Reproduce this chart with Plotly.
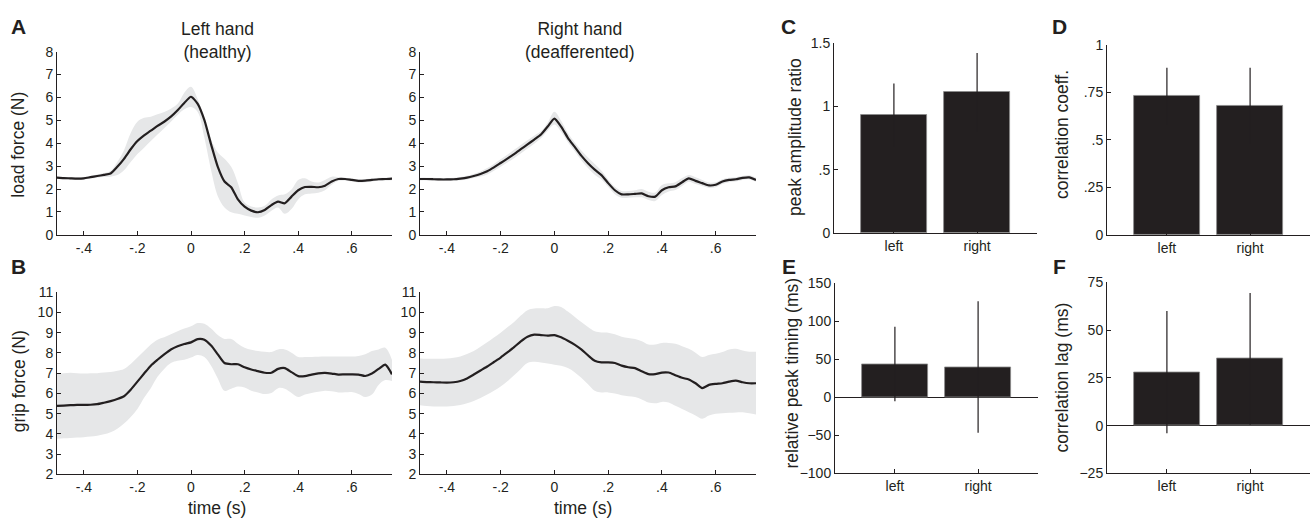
import plotly.graph_objects as go

# ---------------- data ----------------
time_s = [-0.5, -0.475, -0.45, -0.425, -0.4, -0.375, -0.35, -0.325, -0.3, -0.275,
          -0.25, -0.225, -0.2, -0.175, -0.15, -0.125, -0.1, -0.075, -0.05, -0.025,
          0.0, 0.025, 0.05, 0.075, 0.1, 0.125, 0.15, 0.175, 0.2, 0.225,
          0.25, 0.275, 0.3, 0.325, 0.35, 0.375, 0.4, 0.425, 0.45, 0.475,
          0.5, 0.525, 0.55, 0.575, 0.6, 0.625, 0.65, 0.675, 0.7, 0.725, 0.75]

load_left_mean = [2.50, 2.48, 2.47, 2.46, 2.47, 2.52, 2.57, 2.62, 2.68, 2.97,
                  3.32, 3.74, 4.10, 4.35, 4.55, 4.76, 4.94, 5.16, 5.44, 5.76,
                  6.03, 5.72, 5.01, 3.95, 2.97, 2.33, 2.08, 1.55, 1.23, 1.06,
                  0.99, 1.09, 1.30, 1.45, 1.38, 1.67, 1.95, 2.09, 2.10, 2.08,
                  2.15, 2.33, 2.44, 2.44, 2.40, 2.36, 2.37, 2.40, 2.43, 2.44, 2.46]
load_left_upper = [2.55, 2.53, 2.52, 2.52, 2.53, 2.58, 2.64, 2.70, 2.80, 3.18,
                   3.70, 4.45, 4.94, 5.11, 5.16, 5.27, 5.37, 5.51, 5.72, 6.21,
                   6.47, 5.93, 5.08, 4.17, 3.60, 3.32, 2.97, 2.26, 1.41, 1.24,
                   1.20, 1.27, 1.55, 1.72, 1.77, 1.98, 2.40, 2.47, 2.33, 2.29,
                   2.40, 2.54, 2.52, 2.50, 2.46, 2.42, 2.43, 2.46, 2.49, 2.50, 2.52]
load_left_lower = [2.45, 2.43, 2.42, 2.41, 2.42, 2.46, 2.50, 2.53, 2.54, 2.61,
                   2.82, 3.18, 3.53, 3.81, 4.10, 4.38, 4.66, 4.94, 5.23, 5.48,
                   5.58, 5.37, 4.24, 2.82, 1.69, 1.20, 0.99, 0.92, 0.85, 0.78,
                   0.75, 0.85, 1.06, 1.20, 0.92, 1.13, 1.55, 1.77, 1.81, 1.84,
                   1.95, 2.19, 2.36, 2.37, 2.33, 2.29, 2.30, 2.33, 2.36, 2.37, 2.39]

load_right_mean = [2.44, 2.44, 2.43, 2.42, 2.42, 2.43, 2.46, 2.50, 2.57, 2.66,
                   2.78, 2.95, 3.14, 3.33, 3.53, 3.74, 3.95, 4.16, 4.38, 4.73,
                   5.08, 4.73, 4.24, 3.85, 3.46, 3.13, 2.85, 2.61, 2.26, 1.95,
                   1.77, 1.77, 1.79, 1.81, 1.69, 1.67, 1.95, 2.08, 2.12, 2.30,
                   2.47, 2.36, 2.26, 2.16, 2.19, 2.33, 2.40, 2.43, 2.49, 2.51, 2.40]
load_right_upper = [2.50, 2.50, 2.49, 2.48, 2.48, 2.49, 2.53, 2.58, 2.66, 2.77,
                    2.92, 3.10, 3.30, 3.50, 3.72, 3.93, 4.13, 4.33, 4.52, 4.90,
                    5.38, 4.98, 4.45, 4.05, 3.68, 3.38, 3.10, 2.80, 2.42, 2.10,
                    1.92, 1.92, 1.95, 2.00, 1.88, 1.85, 2.18, 2.25, 2.30, 2.48,
                    2.62, 2.52, 2.40, 2.29, 2.30, 2.43, 2.49, 2.52, 2.57, 2.60, 2.50]
load_right_lower = [2.38, 2.38, 2.37, 2.36, 2.36, 2.37, 2.39, 2.42, 2.48, 2.55,
                    2.64, 2.80, 2.98, 3.16, 3.35, 3.55, 3.77, 3.98, 4.22, 4.55,
                    4.82, 4.50, 4.05, 3.66, 3.26, 2.92, 2.63, 2.42, 2.10, 1.78,
                    1.62, 1.62, 1.64, 1.64, 1.52, 1.48, 1.74, 1.90, 1.96, 2.14,
                    2.32, 2.22, 2.13, 2.05, 2.08, 2.22, 2.30, 2.33, 2.40, 2.42, 2.32]

grip_left_mean = [5.38, 5.40, 5.42, 5.43, 5.43, 5.44, 5.47, 5.54, 5.62, 5.72,
                  5.86, 6.18, 6.58, 6.98, 7.37, 7.66, 7.93, 8.17, 8.33, 8.44,
                  8.52, 8.68, 8.65, 8.36, 7.93, 7.50, 7.44, 7.44, 7.29, 7.18,
                  7.10, 7.02, 7.02, 7.21, 7.25, 7.05, 6.85, 6.85, 6.93, 6.99,
                  7.01, 6.98, 6.93, 6.94, 6.94, 6.93, 6.86, 6.98, 7.21, 7.42, 6.94]
grip_left_upper = [6.98, 7.00, 7.02, 7.00, 6.98, 6.99, 7.00, 7.03, 7.06, 7.12,
                   7.21, 7.45, 7.77, 8.09, 8.41, 8.65, 8.77, 8.92, 9.07, 9.20,
                   9.31, 9.47, 9.44, 9.20, 8.88, 8.69, 8.68, 8.45, 8.25, 8.15,
                   8.09, 8.05, 8.04, 8.17, 8.17, 8.01, 7.80, 7.80, 7.80, 7.81,
                   7.82, 7.82, 7.82, 7.82, 7.82, 7.85, 7.93, 8.09, 8.17, 8.25, 7.65]
grip_left_lower = [3.76, 3.78, 3.80, 3.82, 3.84, 3.87, 3.91, 3.98, 4.08, 4.25,
                   4.51, 4.83, 5.23, 5.78, 6.26, 6.82, 7.21, 7.50, 7.61, 7.66,
                   7.77, 7.90, 7.80, 7.37, 6.74, 6.13, 6.23, 6.34, 6.29, 6.13,
                   6.05, 5.97, 6.02, 6.26, 6.23, 6.02, 5.82, 5.94, 6.02, 6.08,
                   6.13, 6.10, 6.05, 6.06, 6.07, 5.97, 5.82, 5.94, 6.42, 6.66, 6.61]

grip_right_mean = [6.58, 6.56, 6.55, 6.54, 6.53, 6.55, 6.61, 6.74, 6.93, 7.13,
                   7.33, 7.55, 7.77, 8.02, 8.28, 8.57, 8.80, 8.90, 8.88, 8.85,
                   8.88, 8.77, 8.60, 8.41, 8.17, 7.88, 7.61, 7.53, 7.53, 7.50,
                   7.37, 7.29, 7.25, 7.09, 6.95, 6.95, 7.03, 7.03, 6.90, 6.77,
                   6.69, 6.50, 6.26, 6.42, 6.47, 6.50, 6.58, 6.63, 6.55, 6.50, 6.50]
grip_right_upper = [7.72, 7.71, 7.71, 7.71, 7.72, 7.76, 7.82, 7.94, 8.09, 8.30,
                    8.52, 8.76, 9.00, 9.26, 9.52, 9.84, 10.11, 10.19, 10.20, 10.20,
                    10.31, 10.27, 10.04, 9.79, 9.52, 9.28, 9.07, 9.01, 9.00, 8.92,
                    8.80, 8.73, 8.68, 8.57, 8.41, 8.41, 8.49, 8.49, 8.45, 8.33,
                    8.20, 8.01, 7.80, 7.90, 7.96, 8.04, 8.17, 8.20, 8.12, 8.06, 8.06]
grip_right_lower = [5.42, 5.38, 5.35, 5.35, 5.35, 5.38, 5.43, 5.51, 5.62, 5.77,
                    5.94, 6.13, 6.34, 6.60, 6.90, 7.21, 7.50, 7.56, 7.53, 7.48,
                    7.42, 7.37, 7.25, 7.05, 6.77, 6.45, 6.13, 6.05, 6.05, 5.99,
                    5.91, 5.86, 5.82, 5.70, 5.55, 5.51, 5.58, 5.55, 5.39, 5.23,
                    5.07, 4.91, 4.75, 4.91, 4.99, 5.02, 5.04, 5.06, 5.07, 5.02, 4.96]

time_tickvals = [-0.4, -0.2, 0, 0.2, 0.4, 0.6]
time_ticktext = ['-.4', '-.2', '0', '.2', '.4', '.6']

hands = ['left', 'right']
hand_pos = [1, 2]
peak_amp = [0.93, 1.11]
peak_amp_err = [0.25, 0.31]
corr_coeff = [0.73, 0.68]
corr_coeff_err = [0.15, 0.20]
peak_timing = [44, 40]
peak_timing_err = [49, 86.5]
corr_lag = [28, 35]
corr_lag_err = [32, 34.5]

# ---------------- style ----------------
W, H = 1312, 528
DARK = '#231f20'
BAND = '#e6e7e8'
FONT = 'Liberation Sans, Arial, Helvetica, sans-serif'


def dom_x(a, b):
    return [a / W, b / W]


def dom_y(top, bottom):
    return [1 - bottom / H, 1 - top / H]


fig = go.Figure()


def add_curve(xref, yref, upper, lower, mean):
    fig.add_trace(go.Scatter(x=time_s, y=upper, mode='lines', line=dict(width=0, shape='spline'),
                             hoverinfo='skip', showlegend=False, xaxis=xref, yaxis=yref))
    fig.add_trace(go.Scatter(x=time_s, y=lower, mode='lines', line=dict(width=0, shape='spline'),
                             fill='tonexty', fillcolor=BAND, hoverinfo='skip', showlegend=False,
                             xaxis=xref, yaxis=yref))
    fig.add_trace(go.Scatter(x=time_s, y=mean, mode='lines',
                             line=dict(color=DARK, width=2.2, shape='spline', smoothing=0.6),
                             showlegend=False, xaxis=xref, yaxis=yref))


add_curve('x', 'y', load_left_upper, load_left_lower, load_left_mean)
add_curve('x2', 'y2', load_right_upper, load_right_lower, load_right_mean)
add_curve('x3', 'y3', grip_left_upper, grip_left_lower, grip_left_mean)
add_curve('x4', 'y4', grip_right_upper, grip_right_lower, grip_right_mean)


def add_bars(xref, yref, vals, errs):
    fig.add_trace(go.Bar(x=hand_pos, y=vals, width=0.8,
                         marker=dict(color=DARK, line=dict(color='#8a8a8a', width=0.8)),
                         error_y=dict(type='data', array=errs, visible=True, width=0,
                                      thickness=1.2, color=DARK),
                         showlegend=False, xaxis=xref, yaxis=yref))


add_bars('x5', 'y5', peak_amp, peak_amp_err)
add_bars('x6', 'y6', corr_coeff, corr_coeff_err)
add_bars('x7', 'y7', peak_timing, peak_timing_err)
add_bars('x8', 'y8', corr_lag, corr_lag_err)

base_axis = dict(showline=True, linecolor=DARK, linewidth=1, ticks='inside', ticklen=4,
                 tickwidth=1, tickcolor=DARK, showgrid=False, zeroline=False,
                 tickfont=dict(size=14, color=DARK, family=FONT), mirror=False,
                 fixedrange=True)


def xa(domain, anchor, **kw):
    d = dict(base_axis)
    d.update(domain=domain, anchor=anchor)
    d.update(kw)
    return d


time_x = dict(range=[-0.5, 0.75], tickmode='array', tickvals=time_tickvals, ticktext=time_ticktext)
bar_x = dict(range=[0.28, 2.72], tickmode='array', tickvals=hand_pos, ticktext=hands)

layout = dict(
    width=W, height=H, margin=dict(l=0, r=0, t=0, b=0),
    paper_bgcolor='white', plot_bgcolor='white',
    font=dict(family=FONT, color=DARK),
    bargap=0,
    xaxis=xa(dom_x(57, 392), 'y', **time_x),
    yaxis=xa(dom_y(45, 234), 'x', range=[0, 8], tickmode='linear', tick0=0, dtick=1),
    xaxis2=xa(dom_x(420, 756), 'y2', **time_x),
    yaxis2=xa(dom_y(45, 234), 'x2', range=[0, 8], tickmode='linear', tick0=0, dtick=1),
    xaxis3=xa(dom_x(57, 392), 'y3', **time_x),
    yaxis3=xa(dom_y(293, 481), 'x3', range=[2, 11], tickmode='linear', tick0=2, dtick=1),
    xaxis4=xa(dom_x(420, 756), 'y4', **time_x),
    yaxis4=xa(dom_y(293, 481), 'x4', range=[2, 11], tickmode='linear', tick0=2, dtick=1),
    xaxis5=xa(dom_x(834, 1037), 'y5', **bar_x),
    yaxis5=xa(dom_y(36, 232), 'x5', range=[0, 1.5], tickmode='array',
              tickvals=[0, 0.5, 1, 1.5], ticktext=['0', '.5', '1', '1.5']),
    xaxis6=xa(dom_x(1107, 1310), 'y6', **bar_x),
    yaxis6=xa(dom_y(38, 234), 'x6', range=[0, 1], tickmode='array',
              tickvals=[0, 0.25, 0.5, 0.75, 1], ticktext=['0', '.25', '.5', '.75', '1']),
    xaxis7=xa(dom_x(835, 1038), 'y7', **bar_x),
    yaxis7=xa(dom_y(284, 480), 'x7', range=[-100, 150], tickmode='array',
              tickvals=[-100, -50, 0, 50, 100, 150],
              ticktext=['\u2212100', '\u221250', '0', '50', '100', '150'],
              zeroline=True, zerolinecolor=DARK, zerolinewidth=1),
    xaxis8=xa(dom_x(1107, 1310), 'y8', **bar_x),
    yaxis8=xa(dom_y(283, 480), 'x8', range=[-25, 75], tickmode='array',
              tickvals=[-25, 0, 25, 50, 75],
              ticktext=['\u221225', '0', '25', '50', '75'],
              zeroline=True, zerolinecolor=DARK, zerolinewidth=1),
)
fig.update_layout(**layout)


def ann(text, px, py, size=17.5, angle=0, bold=False):
    if bold:
        text = '<b>' + text + '</b>'
    fig.add_annotation(text=text, x=px / W, y=1 - py / H, xref='paper', yref='paper',
                       xanchor='center', yanchor='middle', showarrow=False, textangle=angle,
                       font=dict(size=size, color=DARK, family=FONT))


# panel letters
ann('A', 18, 19, size=21, bold=True)
ann('B', 18, 267, size=21, bold=True)
ann('C', 789, 19, size=21, bold=True)
ann('D', 1059, 19, size=21, bold=True)
ann('E', 789, 267, size=21, bold=True)
ann('F', 1059, 267, size=21, bold=True)

# column titles
ann('Left hand<br>(healthy)', 217, 33)
ann('Right hand<br>(deafferented)', 580, 33)

# axis titles
ann('load force (N)', 18, 141, angle=-90)
ann('grip force (N)', 19, 385, angle=-90)
ann('time (s)', 217, 516)
ann('time (s)', 583, 516)
ann('peak amplitude ratio', 795, 133, angle=-90)
ann('correlation coeff.', 1062, 131, angle=-90)
ann('relative peak timing (ms)', 792, 377, angle=-90)
ann('correlation lag (ms)', 1062, 381, angle=-90)

page_fix = (
    "document.documentElement.style.margin='0';"
    "document.body.style.margin='0';"
    "document.body.style.overflow='hidden';"
)

fig.write_html('out.html', config={'displayModeBar': False}, post_script=page_fix)
